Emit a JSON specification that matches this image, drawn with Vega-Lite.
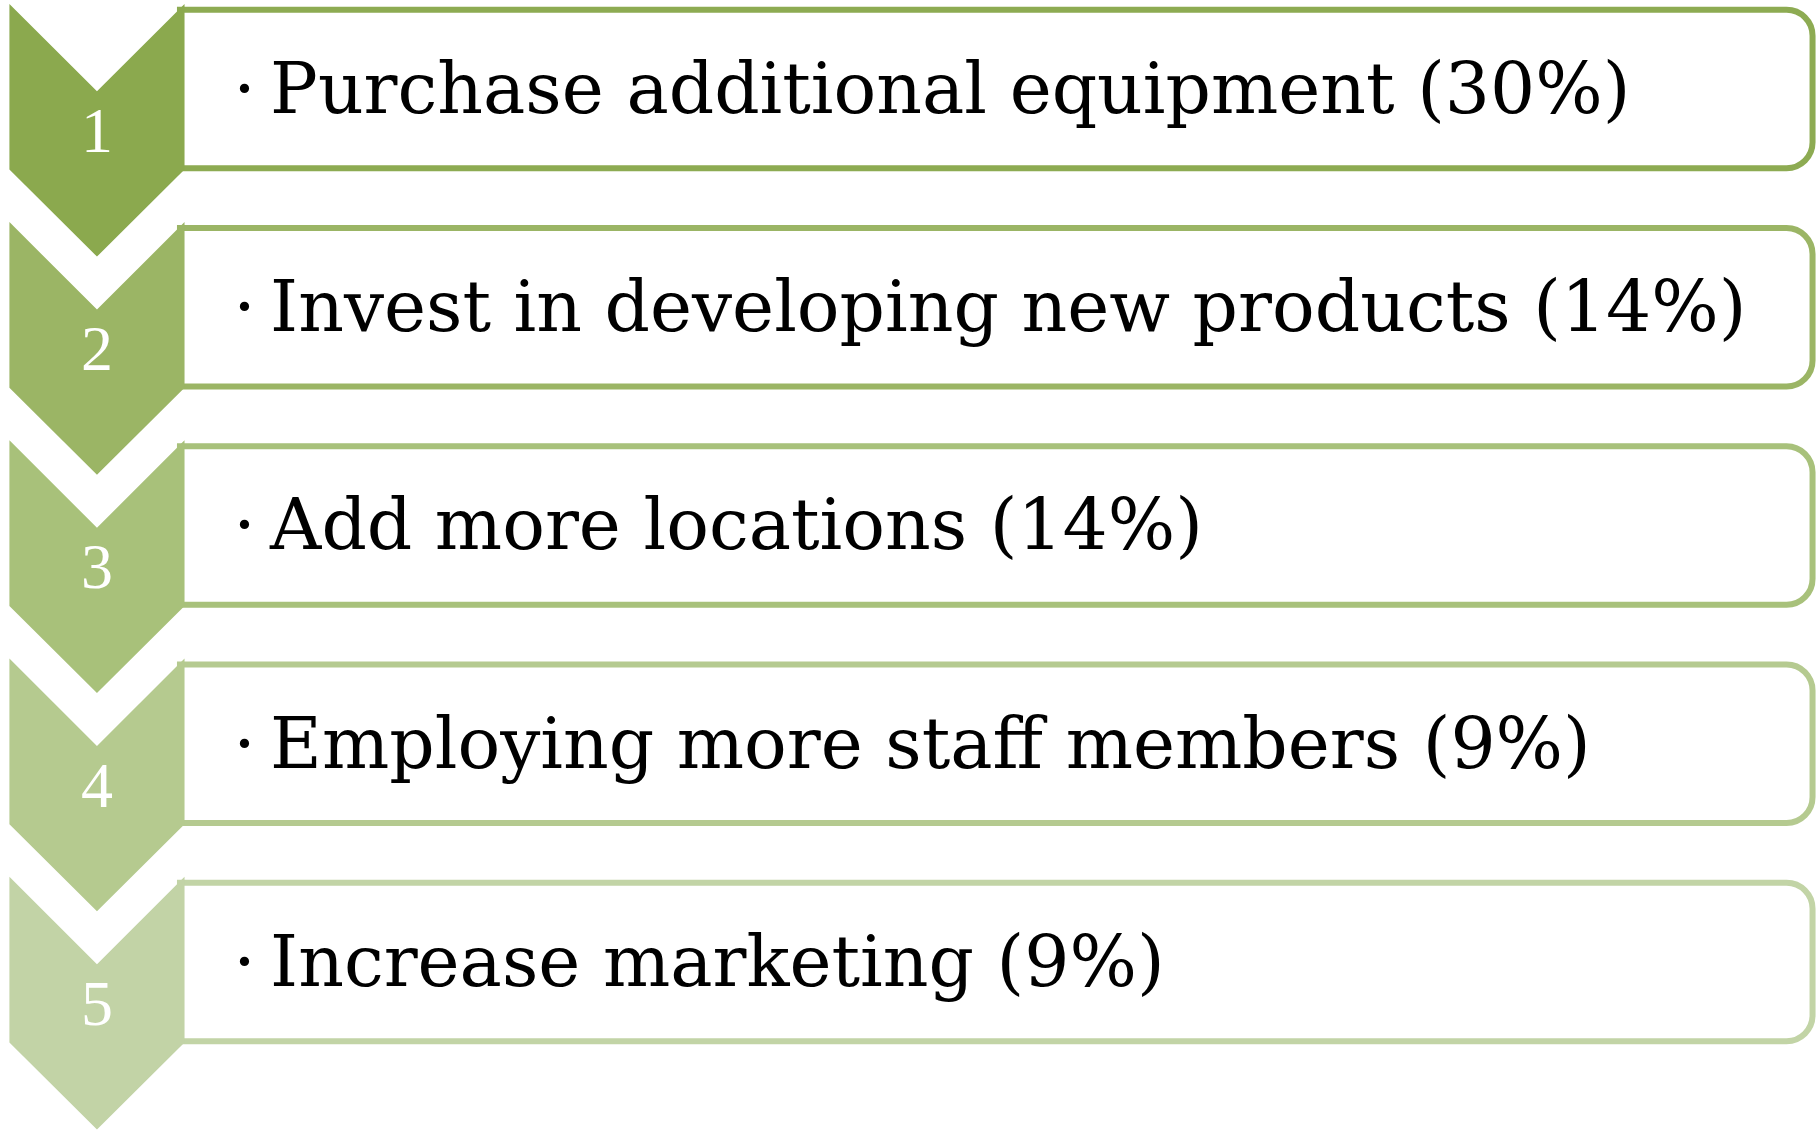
{
  "$schema": "https://vega.github.io/schema/vega-lite/v6.json",
  "autosize": {"type": "fit", "contains": "padding"},
  "width": 1816,
  "height": 1130,
  "padding": 0,
  "background": "white",
  "config": {"view": {"stroke": null}},
  "data": {"values": [
    {"step": 1, "num": "1", "label": "·\u2009Purchase additional equipment (30%)"},
    {"step": 2, "num": "2", "label": "·\u2009Invest in developing new products (14%)"},
    {"step": 3, "num": "3", "label": "·\u2009Add more locations (14%)"},
    {"step": 4, "num": "4", "label": "·\u2009Employing more staff members (9%)"},
    {"step": 5, "num": "5", "label": "·\u2009Increase marketing (9%)"}
  ]},
  "encoding": {
    "y": {"field": "step", "type": "quantitative", "axis": null,
          "scale": {"domain": [0.4032, 5.563], "reverse": true, "nice": false, "zero": false}}
  },
  "layer": [
    {
      "mark": {"type": "rect", "fill": "white", "strokeWidth": 6, "yOffset": -120.4, "y2Offset": 38,
               "cornerRadiusTopRight": 26, "cornerRadiusBottomRight": 26},
      "encoding": {
        "x": {"datum": 9.91, "type": "quantitative", "axis": null, "scale": {"domain": [0, 100], "nice": false, "zero": false}},
        "x2": {"datum": 99.81},
        "y2": {"field": "step"},
        "stroke": {"field": "step", "type": "nominal", "legend": null,
                   "scale": {"domain": [1, 2, 3, 4, 5], "range": ["#8DAB52", "#9BB565", "#A8C17B", "#B5CA90", "#C2D4A6"]}}
      }
    },
    {
      "mark": {"type": "point", "filled": true, "opacity": 1, "size": 63857, "strokeWidth": 0,
               "shape": "M -0.693 -1 L 0 -0.308 L 0.693 -1 L 0.693 0.311 L 0 1 L -0.693 0.311 Z"},
      "encoding": {
        "x": {"datum": 5.34, "type": "quantitative"},
        "color": {"field": "step", "type": "nominal", "legend": null,
                  "scale": {"domain": [1, 2, 3, 4, 5], "range": ["#8BA94E", "#9BB565", "#A8C17A", "#B5CA8F", "#C2D3A6"]}}
      }
    },
    {
      "mark": {"type": "text", "align": "left", "baseline": "alphabetic", "dy": -17.4,
               "font": "DejaVu Serif", "fontSize": 71, "color": "black"},
      "encoding": {
        "x": {"datum": 12.85, "type": "quantitative"},
        "text": {"field": "label"}
      }
    },
    {
      "mark": {"type": "text", "align": "center", "baseline": "alphabetic", "dy": 21.6,
               "font": "Liberation Serif", "fontSize": 64, "color": "white"},
      "encoding": {
        "x": {"datum": 5.34, "type": "quantitative"},
        "text": {"field": "num"}
      }
    }
  ]
}
